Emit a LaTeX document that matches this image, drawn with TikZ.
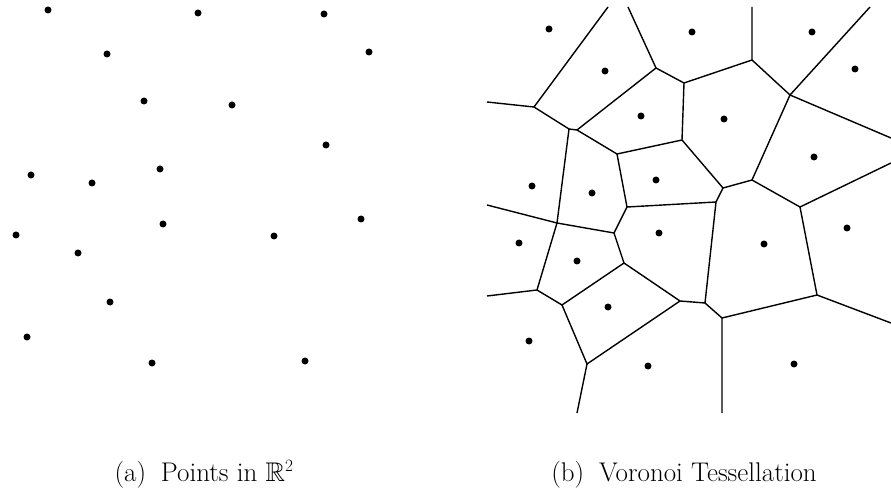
\documentclass[tikz,border=0pt]{standalone}
\usepackage{amsmath,amssymb}
\usepackage{tikz}
\usetikzlibrary{positioning}

\begin{document}
\begin{tikzpicture}[x=1pt, y=-1pt, font=\fontsize{27}{32}\selectfont,
    site/.style={circle, fill=black, inner sep=0pt, minimum size=7pt},
    cell/.style={line width=1.4pt, black, line join=round},
    caption/.style={anchor=base}]

    \useasboundingbox (0,0) rectangle (891,494);

    % (a): the points alone
    \begin{scope}
        \foreach \x/\y [count=\i] in {48/10, 198/13, 324/14, 107/54, 369/52, 144/101, 232/105,
                326/145, 31/175, 92/183, 160/169, 16/235, 163/224, 78/253, 274/236, 361/219,
                110/302, 27/337, 152/363, 305/361}
            \node[site] (a\i) at (\x,\y) {};
        \node[caption] (capa) at (204,481) {(a)\hspace{0.55em}Points in $\mathbb{R}^2$};
    \end{scope}

    % (b): the same points with their cells
    \begin{scope}
        \foreach \x/\y [count=\i] in {549/29, 692/32, 812/32, 605/71, 855/69, 641/116, 724/119,
                814/157, 532/186, 592/193, 656/180, 519/243, 659/233, 577/261, 764/244, 847/228,
                608/307, 529/341, 648/366, 794/364}
            \node[site] (b\i) at (\x,\y) {};

        % cell corners
        \coordinate (vA) at (534,107);
        \coordinate (vB) at (569,129);
        \coordinate (vBb) at (577,130);
        \coordinate (vC) at (656,68);
        \coordinate (vD) at (684,83);
        \coordinate (vE) at (682,140);
        \coordinate (vF) at (617,154);
        \coordinate (vG) at (752,60);
        \coordinate (vH) at (790,95);
        \coordinate (vI) at (752,180);
        \coordinate (vJ) at (723,188);
        \coordinate (vK) at (716,202);
        \coordinate (vL) at (800,207);
        \coordinate (vM) at (627,207);
        \coordinate (vN) at (557,223);
        \coordinate (vO) at (614,233);
        \coordinate (vP) at (624,263);
        \coordinate (vQ) at (537,290);
        \coordinate (vR) at (562,305);
        \coordinate (vS) at (680,301);
        \coordinate (vT) at (705,303);
        \coordinate (vU) at (722,318);
        \coordinate (vV) at (817,295);
        \coordinate (vW) at (587,364);

        % open ends
        \coordinate (e1) at (608,7);
        \coordinate (e2) at (487,102);
        \coordinate (e3) at (628,7);
        \coordinate (e4) at (752,7);
        \coordinate (e5) at (870,7);
        \coordinate (e6) at (891,138);
        \coordinate (e7) at (891,163);
        \coordinate (e8) at (891,323);
        \coordinate (e9) at (722,413);
        \coordinate (e10) at (577,413);
        \coordinate (e11) at (487,296);
        \coordinate (e12) at (487,205);

        \draw[cell] (e1) -- (vA) -- (vB) -- (vN) -- (vQ) -- (e11);
        \draw[cell] (e2) -- (vA);
        \draw[cell] (vB) -- (vBb) -- (vC) -- (vD) -- (vE) -- (vJ) -- (vK) -- (vT) -- (vU) -- (e9);
        \draw[cell] (e3) -- (vC);
        \draw[cell] (vBb) -- (vF) -- (vE);
        \draw[cell] (vF) -- (vM) -- (vK);
        \draw[cell] (vD) -- (vG) -- (e4);
        \draw[cell] (vG) -- (vH) -- (e5);
        \draw[cell] (vH) -- (e6);
        \draw[cell] (vH) -- (vI) -- (vJ);
        \draw[cell] (vI) -- (vL) -- (e7);
        \draw[cell] (vL) -- (vV) -- (e8);
        \draw[cell] (vV) -- (vU);
        \draw[cell] (e12) -- (vN);
        \draw[cell] (vN) -- (vO) -- (vM);
        \draw[cell] (vO) -- (vP) -- (vS) -- (vT);
        \draw[cell] (vQ) -- (vR) -- (vP);
        \draw[cell] (vR) -- (vW) -- (vS);
        \draw[cell] (vW) -- (e10);

        \node[caption] (capb) at (684,481) {(b)\hspace{0.55em}Voronoi Tessellation};
    \end{scope}

\end{tikzpicture}
\end{document}
